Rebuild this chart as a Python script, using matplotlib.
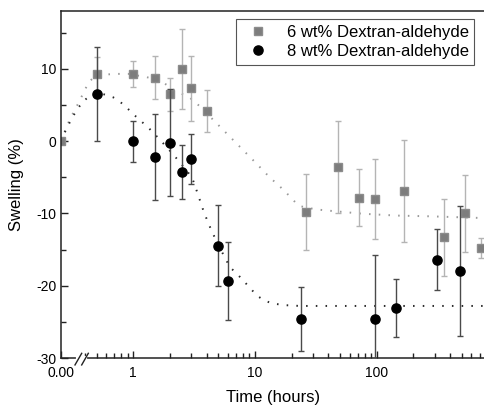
import numpy as np
import matplotlib
matplotlib.use('Agg')
import matplotlib.pyplot as plt
from matplotlib.lines import Line2D

plt.rcParams['font.family'] = ['Liberation Sans', 'DejaVu Sans']
plt.rcParams['axes.unicode_minus'] = False

# 6 wt% Dextran-aldehyde (gray squares)
t6 = [0, 0.5, 1.0, 1.5, 2.0, 2.5, 3.0, 4.0, 26, 48, 72, 96, 168, 360, 528, 720]
s6 = [0, 9.3, 9.3, 8.8, 6.5, 10.0, 7.3, 4.2, -9.8, -3.6, -7.8, -8.0, -6.85, -13.3, -10.0, -14.8]
e6 = [0, 2.4, 1.85, 3.0, 2.3, 5.5, 4.45, 2.9, 5.3, 6.35, 3.95, 5.5, 7.05, 5.3, 5.35, 1.35]

# 8 wt% Dextran-aldehyde (black circles)
t8 = [0.5, 1.0, 1.5, 2.0, 2.5, 3.0, 5.0, 6.0, 24, 96, 144, 312, 480]
s8 = [6.5, 0.0, -2.2, -0.2, -4.3, -2.5, -14.5, -19.4, -24.6, -24.6, -23.1, -16.4, -18.0]
e8 = [6.5, 2.85, 5.9, 7.4, 3.7, 3.45, 5.6, 5.4, 4.45, 8.9, 4.0, 4.2, 9.0]

# dotted fit curves
fit6_t = [0, 0.095, 0.15, 0.205, 0.288, 0.345, 0.4, 0.432, 0.484, 0.567, 0.731, 0.94,
          1.135, 1.29, 1.69, 2.23, 2.92, 3.42, 4.41, 5.78, 7.63, 10.0, 13.1, 17.3,
          22.7, 26.1, 34.2, 45.4, 77.6, 146, 274, 515, 776]
fit6_s = [0, 2.0, 3.05, 3.9, 5.2, 6.15, 7.1, 8.15, 9.0, 9.2, 9.3, 9.3,
          9.0, 8.85, 8.3, 6.95, 6.0, 5.0, 3.15, 1.15, -0.9, -2.9, -4.95, -6.8,
          -8.9, -9.2, -9.5, -9.7, -10.05, -10.3, -10.4, -10.55, -10.65]
fit8_t = [0, 0.095, 0.205, 0.317, 0.4, 0.44, 0.5, 0.567, 0.685, 0.778, 0.893, 1.02,
          1.17, 1.35, 1.54, 1.75, 1.98, 2.23, 2.53, 2.80, 3.08, 3.38, 3.72, 4.13,
          4.69, 5.38, 6.23, 7.07, 8.02, 9.1, 10.4, 11.9, 13.7, 18.0, 23.4, 776]
fit8_s = [0, 1.8, 3.5, 4.9, 5.7, 6.25, 6.5, 6.5, 6.05, 5.45, 4.55, 3.6,
          2.7, 1.75, 0.75, -0.25, -1.25, -2.25, -3.35, -4.25, -5.3, -7.25, -9.35, -11.35,
          -13.4, -15.4, -17.45, -18.3, -19.3, -20.3, -21.4, -22.0, -22.45, -22.7, -22.8, -22.8]

# broken x axis: linear piece near zero, log above xb
xb = 0.4
u0 = -0.594
lb = np.log10(xb)


def fwd(x):
    x = np.asarray(x, dtype=float)
    return np.where(x < xb, u0 + x / xb * (lb - u0), np.log10(np.maximum(x, xb)))


def inv(u):
    u = np.asarray(u, dtype=float)
    return np.where(u < lb, (u - u0) / (lb - u0) * xb, 10 ** np.maximum(u, lb))


fig = plt.figure(figsize=(4.85, 4.05), dpi=100)
ax = fig.add_axes([61 / 485, 47 / 405, 424 / 485, 347 / 405])
ax.set_xscale('function', functions=(fwd, inv))
ax.set_xlim(0, 776)
ax.set_ylim(-30, 18)

ax.plot(fit6_t, fit6_s, color='#9a9a9a', lw=1.4, ls=(0, (0.8, 4.2)), zorder=1)
ax.plot(fit8_t, fit8_s, color='#2a2a2a', lw=1.4, ls=(0, (0.8, 4.2)), zorder=1)

sq = dict(marker='s', ms=5.4, color='#7d7d7d', mec='#8c8c8c')
ci = dict(marker='o', ms=6.6, color='black')
ax.errorbar(t6, s6, yerr=e6, ls='none', ecolor='#b4b4b4', elinewidth=1.0,
            capsize=2.5, capthick=1.0, zorder=2, **sq)
ax.errorbar(t8, s8, yerr=e8, ls='none', ecolor='#4a4a4a', elinewidth=1.0,
            capsize=2.5, capthick=1.0, zorder=3, **ci)

ax.set_xticks([0, 1, 10, 100])
ax.set_xticklabels(['0.00', '1', '10', '100'])
minor = [0.4, 0.5, 0.6, 0.7, 0.8, 0.9] + list(range(2, 10)) + list(range(20, 100, 10)) + list(range(200, 800, 100))
ax.set_xticks(minor, minor=True)
ax.set_yticks([-30, -20, -10, 0, 10])
ax.set_yticks([-25, -15, -5, 5, 15], minor=True)

ax.tick_params(which='both', direction='in', labelsize=10, width=1.0, color='#222222')
ax.tick_params(which='major', length=5.3)
ax.tick_params(which='minor', length=3.5)
ax.tick_params(axis='x', which='major', pad=6)
ax.spines['right'].set_visible(False)
for sp in ['left', 'bottom', 'top']:
    ax.spines[sp].set_linewidth(1.1)
    ax.spines[sp].set_color('#222222')

# axis break marks
ax.plot([0.0405, 0.0566], [0, 0], transform=ax.transAxes, color='white', lw=3,
        clip_on=False, zorder=5)
ax.plot([0.033, 0.0488], [-0.02, 0.0135], transform=ax.transAxes, color='#222222',
        lw=1.0, clip_on=False, zorder=6)
ax.plot([0.0488, 0.0644], [-0.02, 0.0135], transform=ax.transAxes, color='#222222',
        lw=1.0, clip_on=False, zorder=6)

ax.set_xlabel('Time (hours)', fontsize=12, labelpad=7)
ax.set_ylabel('Swelling (%)', fontsize=12)
ax.yaxis.set_label_coords(-0.087, 0.5)

handles = [Line2D([], [], ls='none', **sq), Line2D([], [], ls='none', **ci)]
labels = ['6 wt% Dextran-aldehyde', '8 wt% Dextran-aldehyde']
leg = ax.legend(handles, labels, loc='upper right', bbox_to_anchor=(0.975, 0.977),
                borderaxespad=0, fontsize=12, numpoints=1, fancybox=False,
                framealpha=1, edgecolor='#555555', borderpad=0.35, labelspacing=0.25,
                handletextpad=0.7, handlelength=2.0)
leg.get_frame().set_linewidth(0.8)

fig.savefig('out.png', dpi=100)
